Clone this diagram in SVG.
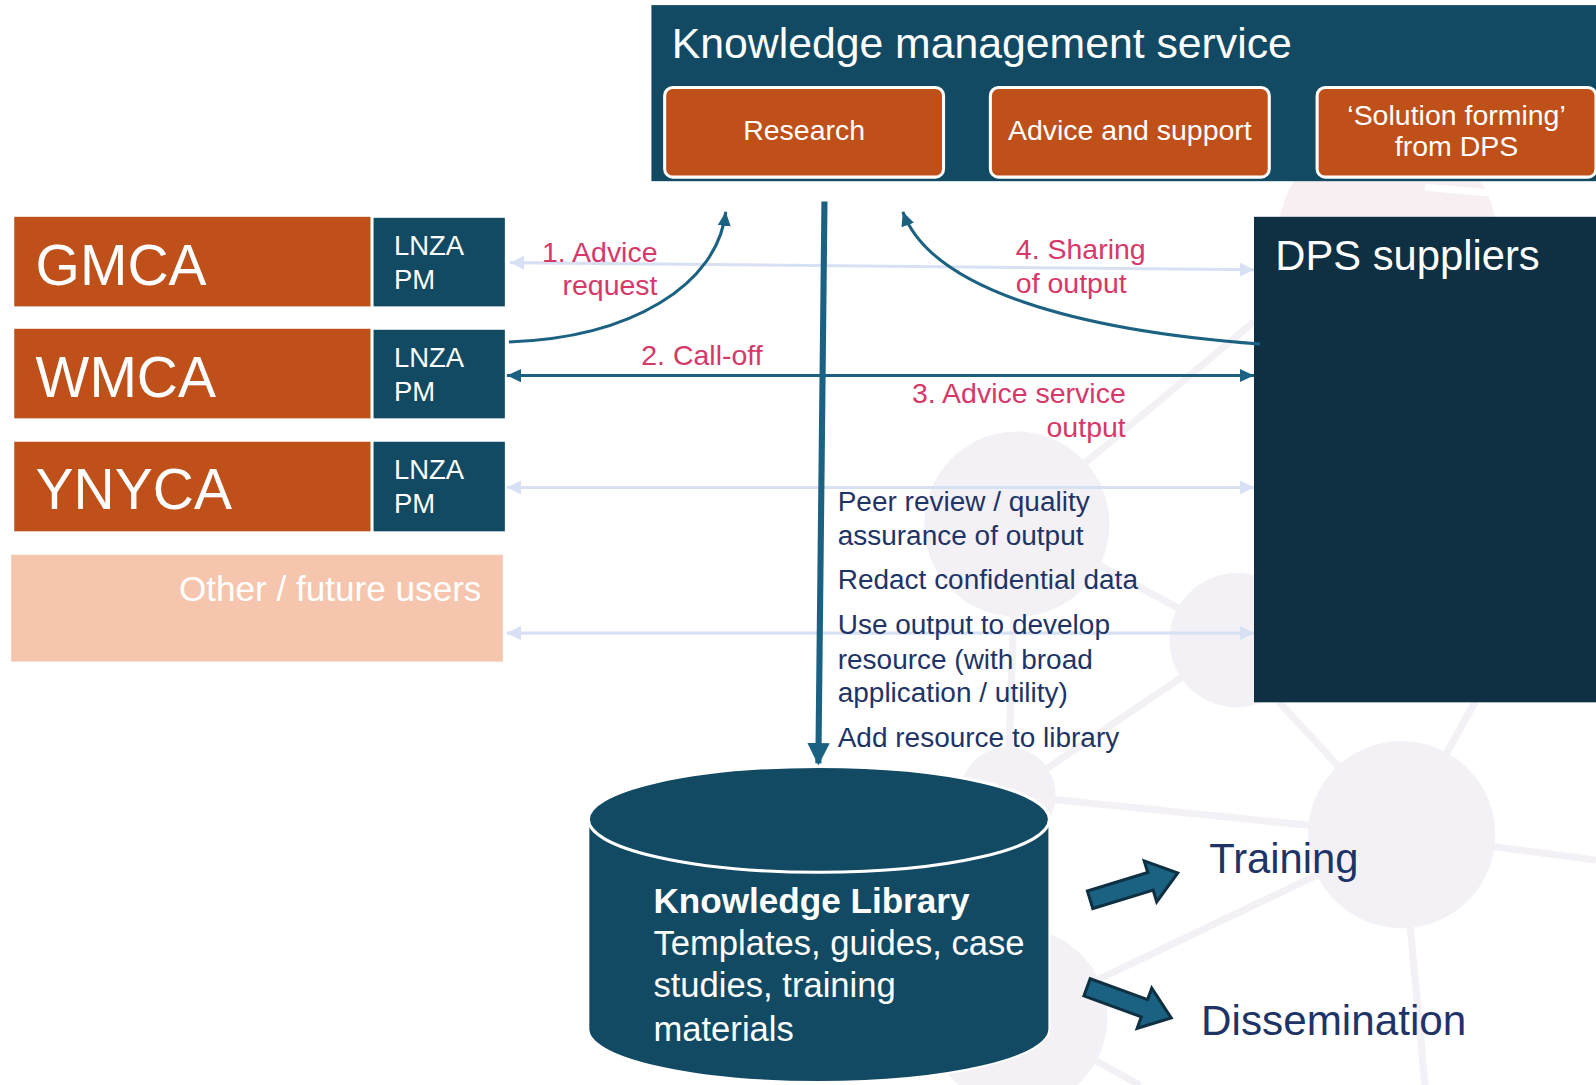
<svg xmlns="http://www.w3.org/2000/svg" width="1596" height="1085" viewBox="0 0 1596 1085">
<style>
.t{font-family:"Liberation Sans",Arial,sans-serif}
.w{fill:#ffffff}
.pk{fill:#d6386a;font-size:28px}
.nv{fill:#1f3466;font-size:27.5px}
.bgl{stroke:#f3f1f6;stroke-width:7;fill:none}
.bgc{fill:#f3f1f6}
.org{fill:#c05019}
.tea{fill:#134a63}
.lav{stroke:#d8e0f4;stroke-width:3;fill:none}
.dk{stroke:#1b6282;stroke-width:3;fill:none}
.blk{fill:#1b6282;stroke:#0e3042;stroke-width:3;stroke-linejoin:miter}
</style>
<defs>
<marker id="ml" markerUnits="userSpaceOnUse" markerWidth="16" markerHeight="16" refX="14" refY="8" orient="auto-start-reverse"><path d="M0,1 L14,8 L0,15 Z" fill="#d8e0f4"/></marker>
<marker id="md" markerUnits="userSpaceOnUse" markerWidth="16" markerHeight="16" refX="14" refY="8" orient="auto-start-reverse"><path d="M0,1.5 L14,8 L0,14.5 Z" fill="#1b6282"/></marker>
<marker id="mv" markerUnits="userSpaceOnUse" markerWidth="26" markerHeight="22" refX="20" refY="11" orient="auto"><path d="M0,0 L22,11 L0,22 Z" fill="#1b6282"/></marker>
</defs>
<rect width="1596" height="1085" fill="#ffffff"/>
<g transform="scale(1.017857)">
<g id="background">
<line class="bgl" x1="999" y1="511" x2="1232" y2="316"/>
<line class="bgl" x1="999" y1="511" x2="1215" y2="629"/>
<line class="bgl" x1="999" y1="511" x2="990" y2="781"/>
<line class="bgl" x1="1215" y1="629" x2="990" y2="781"/>
<line class="bgl" x1="990" y1="781" x2="1377" y2="820"/>
<line class="bgl" x1="1000" y1="1000" x2="1377" y2="820"/>
<line class="bgl" x1="1377" y1="820" x2="1568" y2="845"/>
<line class="bgl" x1="1377" y1="820" x2="1400" y2="1066"/>
<line class="bgl" x1="1377" y1="820" x2="1255" y2="688"/>
<line class="bgl" x1="1377" y1="820" x2="1450" y2="688"/>
<line class="bgl" x1="1000" y1="1000" x2="1120" y2="1066"/>
<circle class="bgc" cx="999" cy="515" r="91"/>
<circle class="bgc" cx="1215" cy="629" r="66"/>
<circle class="bgc" cx="990" cy="781" r="47"/>
<circle class="bgc" cx="1377" cy="820" r="92"/>
<circle class="bgc" cx="1000" cy="1000" r="88"/>
<circle cx="1363" cy="235" r="108" fill="#f7eff2"/>
<line x1="1400" y1="184" x2="1478" y2="191" stroke="#ffffff" stroke-width="7"/>
</g>
<g id="kms">
<rect x="640" y="5" width="960" height="173" class="tea"/>
<text class="t w" x="660" y="57" font-size="42">Knowledge management service</text>
</g>
<g id="research">
<rect x="653" y="86" width="274" height="88" rx="8" class="org" stroke="#ffffff" stroke-width="3"/>
<text class="t w" x="790" y="138" font-size="28" text-anchor="middle">Research</text>
</g>
<g id="advice">
<rect x="973" y="86" width="274" height="88" rx="8" class="org" stroke="#ffffff" stroke-width="3"/>
<text class="t w" x="1110" y="138" font-size="28" text-anchor="middle">Advice and support</text>
</g>
<g id="solution">
<rect x="1294" y="86" width="274" height="88" rx="8" class="org" stroke="#ffffff" stroke-width="3"/>
<text class="t w" x="1431" y="123" font-size="28" text-anchor="middle">‘Solution forming’</text>
<text class="t w" x="1431" y="153" font-size="28" text-anchor="middle">from DPS</text>
</g>
<g id="gmca">
<rect x="14" y="213" width="350" height="88" class="org"/>
<text class="t w" x="35" y="280" font-size="56">GMCA</text>
<rect x="367" y="214" width="129" height="87" class="tea"/>
<text class="t w" x="387" y="251" font-size="27">LNZA</text>
<text class="t w" x="387" y="284" font-size="27">PM</text>
</g>
<g id="wmca">
<rect x="14" y="323" width="350" height="88" class="org"/>
<text class="t w" x="35" y="390" font-size="56">WMCA</text>
<rect x="367" y="324" width="129" height="87" class="tea"/>
<text class="t w" x="387" y="361" font-size="27">LNZA</text>
<text class="t w" x="387" y="394" font-size="27">PM</text>
</g>
<g id="ynyca">
<rect x="14" y="434" width="350" height="88" class="org"/>
<text class="t w" x="35" y="500" font-size="56">YNYCA</text>
<rect x="367" y="434" width="129" height="88" class="tea"/>
<text class="t w" x="387" y="471" font-size="27">LNZA</text>
<text class="t w" x="387" y="504" font-size="27">PM</text>
</g>
<g id="other">
<rect x="11" y="545" width="483" height="105" fill="#f5c6ad"/>
<text class="t w" x="473" y="590" font-size="34.5" text-anchor="end">Other / future users</text>
</g>
<g id="dps">
<rect x="1232" y="213" width="368" height="477" fill="#0e3042"/>
<text class="t w" x="1253" y="265" font-size="41">DPS suppliers</text>
</g>
<g id="connectors">
<line class="lav" x1="501" y1="258" x2="1232" y2="265" marker-start="url(#ml)" marker-end="url(#ml)"/>
<line class="lav" x1="498" y1="479" x2="1232" y2="479" marker-start="url(#ml)" marker-end="url(#ml)"/>
<line class="lav" x1="498" y1="622" x2="1232" y2="622" marker-start="url(#ml)" marker-end="url(#ml)"/>
<line class="dk" x1="498" y1="369" x2="1232" y2="369" marker-start="url(#md)" marker-end="url(#md)"/>
<path class="dk" d="M500,336 C620,332 705,280 713,208" marker-end="url(#md)"/>
<path class="dk" d="M1238,338 C1060,325 915,285 887,208" marker-end="url(#md)"/>
<line x1="810" y1="198" x2="804" y2="750" stroke="#1b6282" stroke-width="6" marker-end="url(#mv)"/>
</g>
<g id="labels">
<text class="t pk" x="646" y="257" text-anchor="end">1. Advice</text>
<text class="t pk" x="646" y="290" text-anchor="end">request</text>
<text class="t pk" x="630" y="359">2. Call-off</text>
<text class="t pk" x="998" y="254">4. Sharing</text>
<text class="t pk" x="998" y="288">of output</text>
<text class="t pk" x="1106" y="396" text-anchor="end">3. Advice service</text>
<text class="t pk" x="1106" y="429" text-anchor="end">output</text>
</g>
<g id="steps">
<text class="t nv" x="823" y="502">Peer review / quality</text>
<text class="t nv" x="823" y="535">assurance of output</text>
<text class="t nv" x="823" y="579">Redact confidential data</text>
<text class="t nv" x="823" y="623">Use output to develop</text>
<text class="t nv" x="823" y="657">resource (with broad</text>
<text class="t nv" x="823" y="690">application / utility)</text>
<text class="t nv" x="823" y="734">Add resource to library</text>
</g>
<g id="library">
<path d="M578,805 L578,1011 A226.5,52 0 0 0 1031,1011 L1031,805 Z" class="tea" stroke="#ffffff" stroke-width="2"/>
<ellipse cx="804.5" cy="805" rx="226.5" ry="52" class="tea" stroke="#ffffff" stroke-width="3"/>
<text class="t w" x="642" y="897" font-size="34.5" font-weight="bold">Knowledge Library</text>
<text class="t w" x="642" y="938" font-size="34">Templates, guides, case</text>
<text class="t w" x="642" y="980" font-size="34">studies, training</text>
<text class="t w" x="642" y="1023" font-size="34">materials</text>
</g>
<g id="training">
<path class="blk" transform="translate(1071,884) rotate(-17)" d="M0,-9 L62,-9 L62,-21 L90,0 L62,21 L62,9 L0,9 Z"/>
<text class="t" x="1188" y="858" font-size="41" fill="#1f3466">Training</text>
</g>
<g id="dissemination">
<path class="blk" transform="translate(1068,970) rotate(20)" d="M0,-9 L60,-9 L60,-21 L88,0 L60,21 L60,9 L0,9 Z"/>
<text class="t" x="1180" y="1017" font-size="41.5" fill="#1f3466">Dissemination</text>
</g>
</g>
</svg>
